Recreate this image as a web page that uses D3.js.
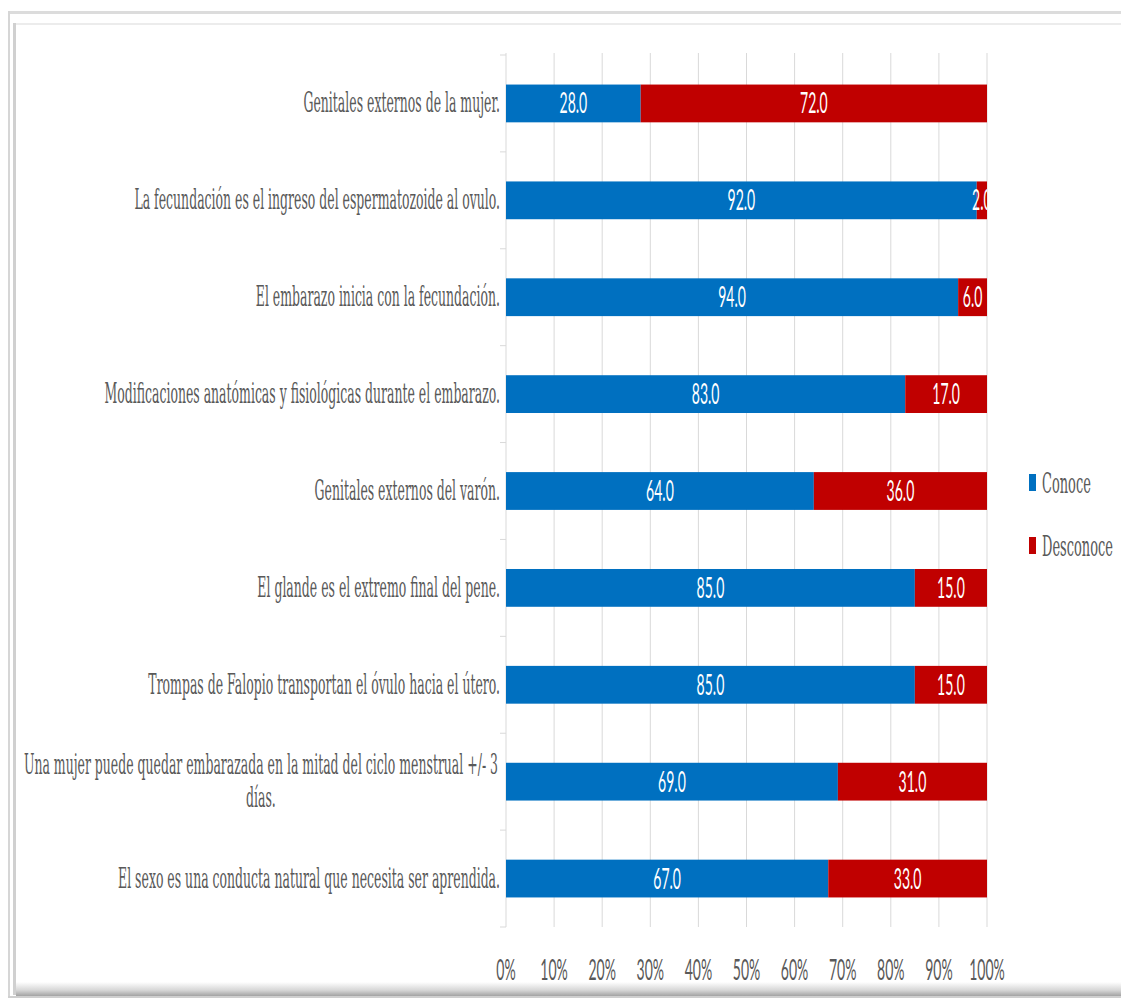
<!DOCTYPE html>
<html>
<head>
<meta charset="utf-8">
<script src="https://cdn.jsdelivr.net/npm/d3@7"></script>
<style>
  html, body { margin: 0; padding: 0; background: #fff; }
  svg { display: block; }
</style>
</head>
<body>
<svg id="chart" width="1121" height="1002"></svg>
<script>
// Survey items (top to bottom)
const categories = [
  "Genitales externos de la mujer.",
  "La fecundación es el ingreso del espermatozoide al ovulo.",
  "El embarazo inicia con la fecundación.",
  "Modificaciones anatómicas y fisiológicas durante el embarazo.",
  "Genitales externos del varón.",
  "El glande es el extremo final del pene.",
  "Trompas de Falopio transportan el óvulo hacia el útero.",
  "Una mujer puede quedar embarazada en la mitad del ciclo menstrual +/- 3 días.",
  "El sexo es una conducta natural que necesita ser aprendida."
];
const conoce    = [28, 92, 94, 83, 64, 85, 85, 69, 67];
const desconoce = [72, 2, 6, 17, 36, 15, 15, 31, 33];
const seriesNames = ["Conoce", "Desconoce"];
const tickValues = [0, 0.1, 0.2, 0.3, 0.4, 0.5, 0.6, 0.7, 0.8, 0.9, 1.0];

const colors = { Conoce: "#0070C0", Desconoce: "#C00000" };

const svg = d3.select("#chart");
const W = 1121, H = 1002;

// ---- frame ----
const defs = svg.append("defs");
const shade = defs.append("linearGradient").attr("id", "shade")
  .attr("x1", 0).attr("y1", 0).attr("x2", 0).attr("y2", 1);
shade.append("stop").attr("offset", "0%").attr("stop-color", "#ffffff");
shade.append("stop").attr("offset", "55%").attr("stop-color", "#d6d6d6");
shade.append("stop").attr("offset", "100%").attr("stop-color", "#9a9a9a");

svg.append("rect").attr("x", 8).attr("y", 11).attr("width", W - 8).attr("height", 3).attr("fill", "#dcdcdc");
svg.append("rect").attr("x", 14).attr("y", 23).attr("width", W - 14).attr("height", 2).attr("fill", "#ececec");
svg.append("rect").attr("x", 8).attr("y", 11).attr("width", 2).attr("height", 985).attr("fill", "#d6d6d6");
svg.append("rect").attr("x", 13).attr("y", 23).attr("width", 3).attr("height", 972).attr("fill", "#d0d0d0");
svg.append("rect").attr("x", 16).attr("y", 982).attr("width", W - 16).attr("height", 15).attr("fill", "url(#shade)");
svg.append("rect").attr("x", 8).attr("y", 996).attr("width", W - 8).attr("height", 2).attr("fill", "#cfcfcf");

// ---- scales ----
const plot = { left: 506, right: 987, top: 55, bottom: 927 };
const x = d3.scaleLinear().domain([0, 1]).range([plot.left, plot.right]);
const y = d3.scaleBand().domain(categories).range([plot.top, plot.bottom]).paddingInner(0.61).paddingOuter(0.305);

const rows = categories.map((c, i) => ({ cat: c, Conoce: conoce[i], Desconoce: desconoce[i] }));
const stacked = d3.stack().keys(seriesNames).offset(d3.stackOffsetExpand)(rows);

// ---- gridlines ----
svg.append("g").selectAll("line").data(tickValues.slice(1)).join("line")
  .attr("x1", d => x(d)).attr("x2", d => x(d))
  .attr("y1", plot.top - 2).attr("y2", plot.bottom)
  .attr("stroke", "#d9d9d9").attr("stroke-width", 1);

// category axis line with tick marks at band boundaries
const bounds = d3.range(categories.length + 1).map(i => plot.top + i * (plot.bottom - plot.top) / categories.length);
svg.append("line").attr("x1", plot.left).attr("x2", plot.left)
  .attr("y1", plot.top - 2).attr("y2", plot.bottom).attr("stroke", "#d9d9d9");
svg.append("g").selectAll("line").data(bounds).join("line")
  .attr("x1", plot.left - 6).attr("x2", plot.left)
  .attr("y1", d => d).attr("y2", d => d)
  .attr("stroke", "#d9d9d9");

// ---- bars ----
defs.append("clipPath").attr("id", "plotclip").append("rect")
  .attr("x", plot.left).attr("y", plot.top - 5)
  .attr("width", plot.right - plot.left).attr("height", plot.bottom - plot.top + 10);

const barG = svg.append("g");
stacked.forEach(layer => {
  barG.append("g").selectAll("rect").data(layer).join("rect")
    .attr("x", d => x(d[0]))
    .attr("y", d => y(d.data.cat))
    .attr("width", d => x(d[1]) - x(d[0]))
    .attr("height", y.bandwidth())
    .attr("fill", colors[layer.key]);
});

// condensed-text helper
const SX_NUM = 0.5, SX_CAT = 0.462;
function ctext(g, px, py, str, sx, opts) {
  return g.append("text")
    .attr("transform", `translate(${px},${py}) scale(${sx},1)`)
    .attr("text-anchor", opts.anchor || "middle")
    .attr("font-family", opts.family)
    .attr("font-size", opts.size)
    .attr("fill", opts.fill)
    .text(str);
}

// ---- value labels ----
const labelG = svg.append("g").attr("clip-path", "url(#plotclip)");
stacked.forEach(layer => {
  layer.forEach(d => {
    const cx = (x(d[0]) + x(d[1])) / 2;
    const cy = y(d.data.cat) + y.bandwidth() / 2;
    ctext(labelG, cx, cy + 10, d3.format(".1f")(d.data[layer.key]), SX_NUM,
      { family: "Lato, 'Open Sans', sans-serif", size: 28, fill: "#ffffff" });
  });
});

// ---- category labels (wrapped to the label area) ----
const catFont = { family: "'DejaVu Serif', 'Liberation Serif', serif", size: 27, fill: "#595959" };
const maxLabelW = 486, labelRight = 500;
const catG = svg.append("g");
categories.forEach(c => {
  const cy = y(c) + y.bandwidth() / 2;
  // measure words with a hidden probe
  const probe = ctext(catG, 0, 0, "", SX_CAT, Object.assign({ anchor: "start" }, catFont));
  const words = c.split(" ");
  const lines = [];
  let cur = "";
  words.forEach(w => {
    const trial = cur ? cur + " " + w : w;
    probe.text(trial);
    if (probe.node().getComputedTextLength() * SX_CAT > maxLabelW && cur) {
      lines.push(cur); cur = w;
    } else cur = trial;
  });
  lines.push(cur);
  const widths = lines.map(l => { probe.text(l); return probe.node().getComputedTextLength() * SX_CAT; });
  probe.remove();
  const lh = 33;
  const top = cy - (lines.length - 1) * lh / 2 + 9;
  if (lines.length === 1) {
    ctext(catG, labelRight, top, lines[0], SX_CAT, Object.assign({ anchor: "end" }, catFont));
  } else {
    const center = labelRight - 2 - d3.max(widths) / 2;
    lines.forEach((l, i) => ctext(catG, center, top + i * lh, l, SX_CAT, Object.assign({ anchor: "middle" }, catFont)));
  }
});

// ---- x axis tick labels ----
const tickG = svg.append("g");
tickValues.forEach(v => {
  ctext(tickG, x(v), 980, d3.format(".0%")(v), SX_NUM,
    { family: "Lato, 'Open Sans', sans-serif", size: 28, fill: "#595959" });
});

// ---- legend ----
const legG = svg.append("g");
seriesNames.forEach((s, i) => {
  const ly = 483 + i * 63;
  legG.append("rect").attr("x", 1029).attr("y", ly - 9).attr("width", 7).attr("height", 17).attr("fill", colors[s]);
  ctext(legG, 1042, ly + 10, s, SX_CAT * 1.04, Object.assign({ anchor: "start" }, catFont));
});
</script>
</body>
</html>
